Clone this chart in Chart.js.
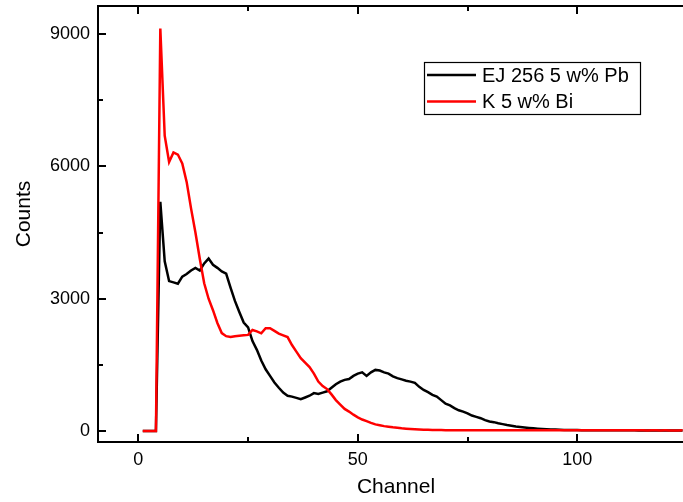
<!DOCTYPE html>
<html>
<head>
<meta charset="utf-8">
<script src="https://cdn.jsdelivr.net/npm/chart.js@4.4.1/dist/chart.umd.min.js"></script>
<style>
  html, body { margin: 0; padding: 0; background: #fff; }
</style>
</head>
<body>
<canvas id="spectrumChart" width="683" height="502"></canvas>
<script>
// Counts per channel, channel 1 first
const ejPbCounts = [
  0, 0, 0, 0, 5200, 3850, 3400, 3370, 3340, 3500,
  3560, 3640, 3700, 3640, 3800, 3910, 3770, 3700, 3620, 3570,
  3250, 2950, 2700, 2460, 2350, 2040, 1840, 1600, 1400, 1250,
  1100, 980, 870, 800, 780, 750, 720, 760, 800, 860,
  840, 870, 900, 980, 1060, 1120, 1160, 1180, 1250, 1300,
  1330, 1250, 1330, 1385, 1370, 1330, 1300, 1240, 1200, 1170,
  1140, 1120, 1090, 1000, 930, 880, 820, 780, 700, 620,
  580, 520, 470, 440, 400, 350, 320, 290, 245, 215,
  200, 175, 155, 135, 120, 100, 90, 80, 70, 60,
  52, 46, 40, 36, 32, 28, 25, 23, 21, 20,
  19, 18, 18, 17, 17, 16, 16, 15, 15, 15,
  14, 14, 14, 13, 13, 13, 13, 12, 12, 12,
  12, 12, 12, 12
];
const kBiCounts = [
  0, 0, 0, 0, 9130, 6700, 6100, 6320, 6270, 6070,
  5650, 5050, 4500, 3900, 3350, 3000, 2740, 2450, 2220, 2150,
  2130, 2150, 2160, 2170, 2180, 2290, 2260, 2215, 2330, 2330,
  2270, 2210, 2170, 2130, 1950, 1800, 1650, 1550, 1450, 1300,
  1120, 1020, 950, 830, 700, 600, 500, 440, 370, 310,
  260, 225, 185, 150, 130, 110, 95, 82, 72, 60,
  52, 45, 40, 35, 30, 27, 24, 22, 20, 19,
  18, 18, 17, 18, 17, 17, 18, 17, 17, 16,
  17, 17, 16, 17, 16, 16, 17, 16, 16, 16,
  16, 15, 16, 16, 15, 15, 16, 15, 15, 15,
  15, 15, 14, 15, 15, 14, 15, 14, 14, 15,
  14, 14, 14, 14, 14, 13, 14, 14, 13, 14,
  13, 13, 13, 14
];
const channels = ejPbCounts.map((_, i) => i + 1);

const xMajorTicks = [0, 50, 100];
const xMinorTicks = [25, 75];
const yMajorTicks = [0, 3000, 6000, 9000];
const yMinorTicks = [1500, 4500, 7500];

const seriesNames = ["EJ 256 5 w% Pb", "K 5 w% Bi"];
const seriesColors = ["#000000", "#ff0000"];

const FONT = "'Liberation Sans', Arial, sans-serif";

// frame, inward ticks, axis titles and the boxed legend
const framePlugin = {
  id: "frame",
  afterDraw(chart) {
    const ctx = chart.ctx;
    const { left, right, top, bottom } = chart.chartArea;
    const xs = chart.scales.x;
    const ys = chart.scales.y;
    ctx.save();
    ctx.strokeStyle = "#000";
    ctx.lineWidth = 2;
    ctx.beginPath();
    ctx.moveTo(right + 2, top);
    ctx.lineTo(left, top);
    ctx.lineTo(left, bottom);
    ctx.lineTo(right + 2, bottom);
    ctx.stroke();

    const xTick = (v, len) => {
      const px = Math.round(xs.getPixelForValue(v));
      ctx.moveTo(px, bottom); ctx.lineTo(px, bottom - len);
      ctx.moveTo(px, top); ctx.lineTo(px, top + len);
    };
    const yTick = (v, len) => {
      const py = Math.round(ys.getPixelForValue(v));
      ctx.moveTo(left, py); ctx.lineTo(left + len, py);
    };
    ctx.beginPath();
    xMajorTicks.forEach(v => xTick(v, 8));
    xMinorTicks.forEach(v => xTick(v, 5));
    yMajorTicks.forEach(v => yTick(v, 8));
    yMinorTicks.forEach(v => yTick(v, 5));
    ctx.stroke();

    // axis titles
    ctx.fillStyle = "#000";
    ctx.font = "21px " + FONT;
    ctx.textAlign = "center";
    ctx.textBaseline = "middle";
    ctx.fillText("Channel", 396, 487);
    ctx.save();
    ctx.translate(24, 214);
    ctx.rotate(-Math.PI / 2);
    ctx.fillText("Counts", 0, 0);
    ctx.restore();

    // legend
    ctx.lineWidth = 1.2;
    ctx.strokeRect(424.5, 62.5, 216, 52);
    ctx.font = "20px " + FONT;
    ctx.textAlign = "left";
    seriesNames.forEach((name, i) => {
      const y = 75 + i * 26.5;
      ctx.strokeStyle = seriesColors[i];
      ctx.lineWidth = 2.5;
      ctx.beginPath();
      ctx.moveTo(427, y);
      ctx.lineTo(476, y);
      ctx.stroke();
      ctx.fillText(name, 482, y + 1);
    });
    ctx.restore();
  }
};

const ctx = document.getElementById("spectrumChart").getContext("2d");
new Chart(ctx, {
  type: "line",
  data: {
    datasets: [
      {
        label: seriesNames[0],
        data: channels.map((c, i) => ({ x: c, y: ejPbCounts[i] })),
        borderColor: seriesColors[0],
        borderWidth: 2.5,
        pointRadius: 0,
        tension: 0,
        order: 1,
      },
      {
        label: seriesNames[1],
        data: channels.map((c, i) => ({ x: c, y: kBiCounts[i] })),
        borderColor: seriesColors[1],
        borderWidth: 2.5,
        pointRadius: 0,
        tension: 0,
        order: 0,
      },
    ],
  },
  options: {
    responsive: false,
    animation: false,
    layout: { padding: { top: 6, right: 0, left: 0, bottom: 0 } },
    plugins: {
      legend: { display: false },
      tooltip: { enabled: false },
    },
    scales: {
      x: {
        type: "linear",
        min: -9.2,
        max: 124.1,
        grid: { display: false, drawTicks: false },
        border: { display: false },
        afterBuildTicks: s => { s.ticks = xMajorTicks.map(v => ({ value: v })); },
        afterFit: s => { s.height = 60; s.paddingLeft = 0; s.paddingRight = 0; },
        ticks: {
          color: "#000",
          font: { family: FONT, size: 18 },
          padding: 7,
          maxRotation: 0,
          callback: v => String(v),
        },
      },
      y: {
        type: "linear",
        min: -250,
        max: 9640,
        grid: { display: false, drawTicks: false },
        border: { display: false },
        afterBuildTicks: s => { s.ticks = yMajorTicks.map(v => ({ value: v })); },
        afterFit: s => { s.width = 98; s.paddingTop = 0; s.paddingBottom = 0; },
        ticks: {
          color: "#000",
          font: { family: FONT, size: 18 },
          padding: 8,
          callback: v => String(v),
        },
      },
    },
  },
  plugins: [framePlugin],
});
</script>
</body>
</html>
